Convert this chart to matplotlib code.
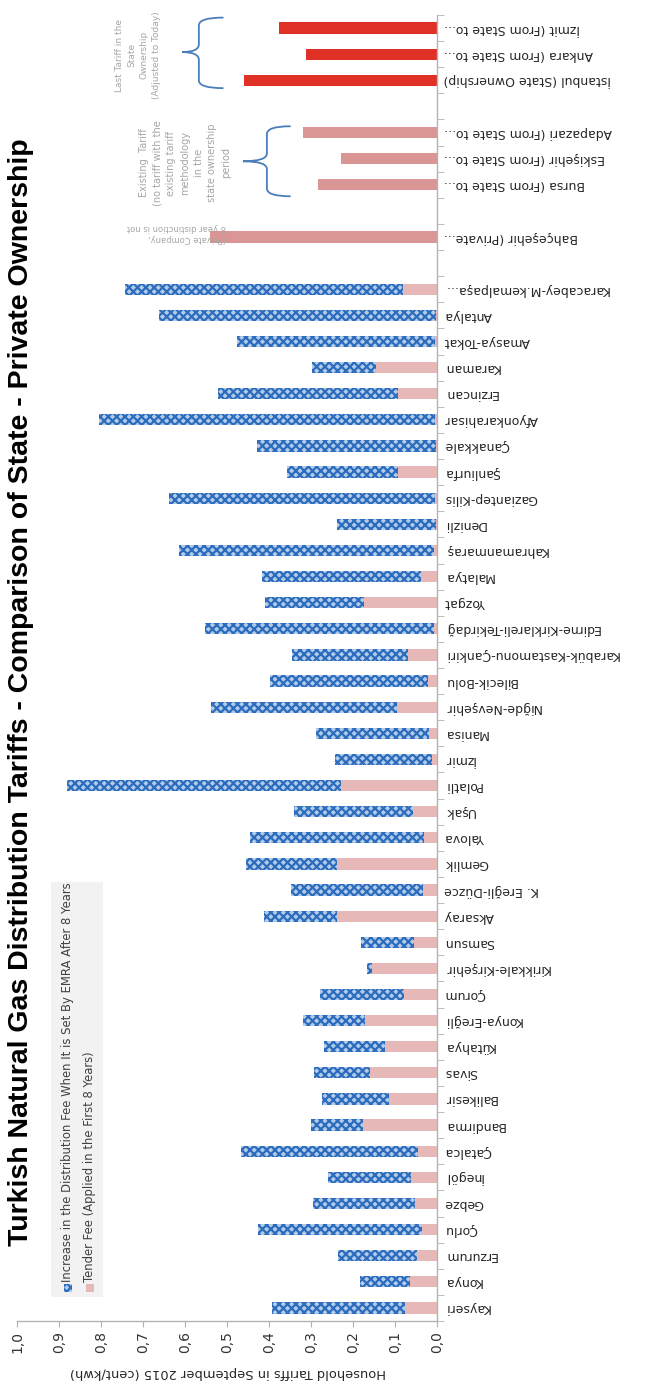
import matplotlib
matplotlib.use("Agg")
from matplotlib import pyplot as plt
from matplotlib.path import Path
from matplotlib.patches import PathPatch, Rectangle

W, H = 648, 1387

# distribution regions tendered to private companies (bottom to top)
private_regions = [
    "Kayseri", "Konya", "Erzurum", "Çorlu", "Gebze", "İnegöl", "Çatalca",
    "Bandirma", "Balikesir", "Sivas", "Kütahya", "Konya-Ereğli", "Çorum",
    "Kirikkale-Kirşehir", "Samsun", "Aksaray", "K. Ereğli-Düzce", "Gemlik",
    "Yalova", "Uşak", "Polatli", "İzmir", "Manisa", "Niğde-Nevşehir",
    "Bilecik-Bolu", "Karabük-Kastamonu-Çankiri", "Edirne-Kirklareli-Tekirdağ",
    "Yozgat", "Malatya", "Kahramanmaraş", "Denizli", "Gaziantep-Kilis",
    "Şanliurfa", "Çanakkale", "Afyonkarahisar", "Erzincan", "Karaman",
    "Amasya-Tokat", "Antalya", "Karacabey-M.kemalpaşa...",
]
tender_fee = [
    0.076, 0.064, 0.048, 0.036, 0.052, 0.062, 0.045, 0.176, 0.114, 0.160,
    0.124, 0.171, 0.079, 0.155, 0.055, 0.238, 0.033, 0.238, 0.031, 0.057,
    0.229, 0.012, 0.019, 0.095, 0.021, 0.069, 0.007, 0.174, 0.038, 0.007,
    0.002, 0.005, 0.093, 0.003, 0.005, 0.093, 0.145, 0.005, 0.003, 0.081,
]
emra_increase = [
    0.317, 0.119, 0.188, 0.390, 0.243, 0.198, 0.422, 0.124, 0.160, 0.133,
    0.145, 0.148, 0.200, 0.012, 0.126, 0.174, 0.315, 0.217, 0.414, 0.283,
    0.652, 0.231, 0.269, 0.443, 0.377, 0.276, 0.545, 0.236, 0.379, 0.607,
    0.236, 0.633, 0.264, 0.426, 0.800, 0.428, 0.153, 0.471, 0.659, 0.662,
]

bahcesehir_name = ["Bahçeşehir (Private..."]
bahcesehir_tariff = [0.540]

transferred_regions = ["Bursa (From State to...", "Eskişehir (From State to...",
                       "Adapazari (From State to..."]
transferred_tariff = [0.283, 0.229, 0.319]

state_regions = ["İstanbul (State Ownership)", "Ankara (From State to...",
                 "İzmit (From State to..."]
state_tariff = [0.460, 0.312, 0.376]

value_ticks = [1.0, 0.9, 0.8, 0.7, 0.6, 0.5, 0.4, 0.3, 0.2, 0.1, 0.0]
value_ticklabels = ["1,0", "0,9", "0,8", "0,7", "0,6", "0,5", "0,4", "0,3", "0,2", "0,1", "0,0"]

legend_labels = ["Increase in the Distribution Fee When It is Set By EMRA After 8 Years",
                 "Tender Fee (Applied in the First 8 Years)"]

BLUE_FACE = "#b3cbeb"
BLUE_HATCH = "#2c6cbd"
TENDER = "#e6b9b8"
STATE_PINK = "#d99694"
RED = "#e03126"
GREY_TEXT = "#a6a6a6"
BRACE = "#4a7ebb"


def px(x, y):
    # pixel position (origin top left) -> figure fraction
    return x / W, 1 - y / H


def brace(ax, y0, y1, x_body, x_end, x_tip, y_tip, r=0.3):
    verts = [
        (x_end, y1), (x_body, y1), (x_body, y1 - r),
        (x_body, y_tip + r),
        (x_body, y_tip), (x_tip, y_tip),
        (x_body, y_tip), (x_body, y_tip - r),
        (x_body, y0 + r),
        (x_body, y0), (x_end, y0),
    ]
    codes = [Path.MOVETO, Path.CURVE3, Path.CURVE3, Path.LINETO,
             Path.CURVE3, Path.CURVE3, Path.CURVE3, Path.CURVE3,
             Path.LINETO, Path.CURVE3, Path.CURVE3]
    ax.add_patch(PathPatch(Path(verts, codes), fill=False, edgecolor=BRACE, lw=1.3,
                           capstyle="round", clip_on=False))


plt.rcParams["hatch.linewidth"] = 1.6

fig = plt.figure(figsize=(W / 100, H / 100), dpi=100)
ax = fig.add_axes([17 / W, 66 / H, 420 / W, 1306 / H])

# category slots, with empty slots between the groups
labels = private_regions + [""] + bahcesehir_name + [""] + transferred_regions + [""] + state_regions
pos = list(range(1, len(labels) + 1))
p_private = pos[:len(private_regions)]
p_bahce = [pos[len(private_regions) + 1]]
p_trans = pos[len(private_regions) + 3:len(private_regions) + 6]
p_state = pos[len(private_regions) + 7:]

bh = 0.43
ax.barh(p_private, tender_fee, height=bh, color=TENDER, lw=0)
ax.barh(p_private, emra_increase, left=tender_fee, height=bh, color=BLUE_FACE,
        edgecolor=BLUE_HATCH, hatch="xxxx", lw=0)
ax.barh(p_bahce, bahcesehir_tariff, height=bh, color=STATE_PINK, lw=0)
ax.barh(p_trans, transferred_tariff, height=bh, color=STATE_PINK, lw=0)
ax.barh(p_state, state_tariff, height=bh, color=RED, lw=0)

ax.set_xlim(1.0, 0.0)
ax.set_ylim(0.5, len(labels) + 0.5)

for s in ["top", "left"]:
    ax.spines[s].set_visible(False)
for s in ["bottom", "right"]:
    ax.spines[s].set_color("#b3b3b3")
    ax.spines[s].set_linewidth(1.0)

ax.set_xticks(value_ticks)
ax.set_xticklabels(value_ticklabels, rotation=90, fontsize=10, color="#333333")
ax.tick_params(axis="x", direction="out", length=4, color="#b3b3b3", pad=3)

ax.yaxis.tick_right()
ax.set_yticks(pos)
ax.set_yticklabels(labels, rotation=180, rotation_mode="anchor", ha="right", va="center",
                   fontsize=9, color="#262626")
ax.set_yticks([p + 0.5 for p in [0] + pos], minor=True)
ax.tick_params(axis="y", which="major", length=0, pad=5)
ax.tick_params(axis="y", which="minor", direction="out", length=5, color="#b3b3b3")

# braces grouping the state-owned regions
brace(ax, 47.7, 50.4, 0.567, 0.51, 0.607, 49.08)
brace(ax, 43.56, 46.24, 0.405, 0.35, 0.462, 44.9)

# notes next to the braces
fig.text(*px(138, 55), "Last Tariff in the\nState\nOwnership\n(Adjusted to Today)",
         rotation=90, ha="center", va="center", fontsize=6.5, color=GREY_TEXT, linespacing=1.5,
         multialignment="center")
fig.text(*px(185, 163), "Existing  Tariff\n(no tariff with the\nexisting tariff\nmethodology\nin the\nstate ownership\nperiod",
         rotation=90, ha="center", va="center", fontsize=7, color=GREY_TEXT, linespacing=1.45,
         multialignment="center")
fig.text(*px(176, 233), "(Private Company,\n8 year distinction is not",
         rotation=180, ha="center", va="center", fontsize=6, color=GREY_TEXT, linespacing=1.25,
         multialignment="left")

# title and value axis label
fig.text(*px(21, 692), "Turkish Natural Gas Distribution Tariffs - Comparison of State - Private Ownership",
         rotation=90, ha="center", va="center", fontsize=20.5, fontweight="bold",
         family=["Liberation Sans", "DejaVu Sans"], color="#000000")
fig.text(*px(228, 1372), "Household Tariffs in September 2015 (cent/kwh)",
         rotation=180, ha="center", va="center", fontsize=9.4, color="#262626")

# legend drawn by hand, rotated with the chart
fig.add_artist(Rectangle(px(51, 1297), 52 / W, 415 / H, transform=fig.transFigure,
                         facecolor="#f2f2f2", edgecolor="none"))
fig.add_artist(Rectangle(px(64, 1292), 8 / W, 8 / H, transform=fig.transFigure,
                         facecolor=BLUE_FACE, edgecolor=BLUE_HATCH, hatch="xxxx", lw=0))
fig.add_artist(Rectangle(px(86, 1292), 8 / W, 8 / H, transform=fig.transFigure,
                         facecolor=TENDER, edgecolor="none"))
fig.text(*px(68, 1282), legend_labels[0], rotation=90, ha="center", va="bottom",
         fontsize=8.4, color="#404040")
fig.text(*px(90, 1282), legend_labels[1], rotation=90, ha="center", va="bottom",
         fontsize=8.4, color="#404040")

fig.savefig("out.png", dpi=100)
